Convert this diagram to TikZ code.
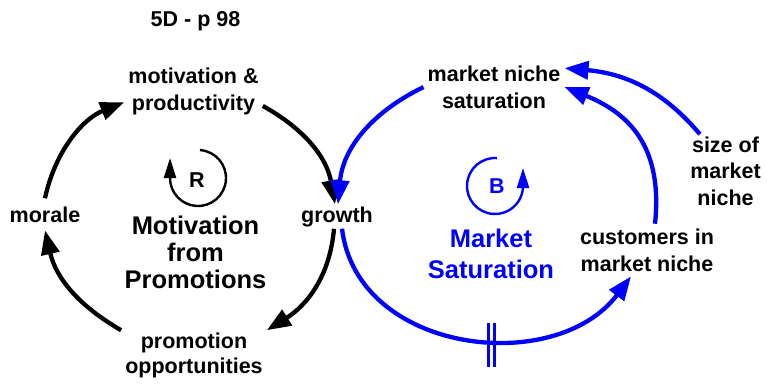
\documentclass[tikz,border=0pt]{standalone}
\usepackage{fontspec}
\setmainfont{Liberation Sans}
\usetikzlibrary{arrows.meta}
\definecolor{myblue}{RGB}{0,0,255}
\begin{document}
\begin{tikzpicture}[x=1pt,y=1pt,
  lbl/.style={font=\fontsize{21.5}{26.5}\selectfont\bfseries, align=center, inner xsep=4pt, inner ysep=2pt, anchor=base},
  loopname/.style={font=\fontsize{25.5}{27}\selectfont\bfseries, align=center, anchor=base},
  conn/.style={line width=4.3pt, -{Triangle[length=24pt,width=18pt]}},
  blk/.style={conn, black},
  blu/.style={conn, myblue},
  sym/.style={line width=2.4pt, -{Triangle[length=20pt,width=12pt]}},
]
\useasboundingbox (0,0) rectangle (767,-383);
% labels
\node[lbl] (title) at (195.5,-26) {5D - p 98};
\node[lbl] (motiv) at (193.5,-110) {motivation \&\\productivity};
\node[lbl, inner ysep=8pt] (morale) at (45,-222) {morale};
\node[lbl] (growth) at (337,-222) {growth};
\node[lbl, font=\fontsize{21.5}{25}\selectfont\bfseries] (prom) at (194,-373) {promotion\\opportunities};
\node[lbl] (mns) at (494,-108) {market niche\\saturation};
\node[lbl] (size) at (725.5,-205) {size of\\market\\niche};
\node[lbl, inner ysep=5pt] (cust) at (647,-271) {customers in\\market niche};
\node[loopname] (rname) at (195.5,-288) {Motivation\\from\\Promotions};
\node[loopname, font=\fontsize{25.5}{31}\selectfont\bfseries, text=myblue] (bname) at (491,-278) {Market\\Saturation};
\node[lbl] (rlet) at (197,-187.7) {R};
\node[lbl, text=myblue] (blet) at (497,-193) {B};
% loop symbols
\draw[sym] ([shift={(86:28)}]198,-178) arc[start angle=86, end angle=-180, radius=28] -- ++(0,20);
\draw[sym, myblue] ([shift={(86:28)}]495,-186) arc[start angle=86, end angle=360, radius=28] -- ++(0,18);
% delay mark
\draw[myblue, line width=3pt] (488.5,-323) -- (488.5,-367) (494.5,-323) -- (494.5,-367);
% connectors
\draw[blk, looseness=0.95] (morale.north) to[out=78,in=202] (motiv.189);
\draw[blk] (motiv.-12) to[out=-29,in=100] ([xshift=-2pt]growth.north);
\draw[blk] ([xshift=-3pt]growth.south) to[out=265,in=32] (prom.north east);
\draw[blk] (prom.north west) to[out=150,in=283] (morale.south);
\draw[blu] (mns.west) to[out=206,in=85] ([xshift=1pt]growth.north);
\draw[blu, looseness=1.1] ([xshift=5pt]growth.south) to[out=277,in=233] ([xshift=-16pt]cust.south);
\draw[blu, looseness=1.15] ([xshift=8pt]cust.north) to[out=84,in=-22] (mns.east);
\draw[blu] (size.125) to[out=130,in=-5] (mns.15);
\end{tikzpicture}
\end{document}
